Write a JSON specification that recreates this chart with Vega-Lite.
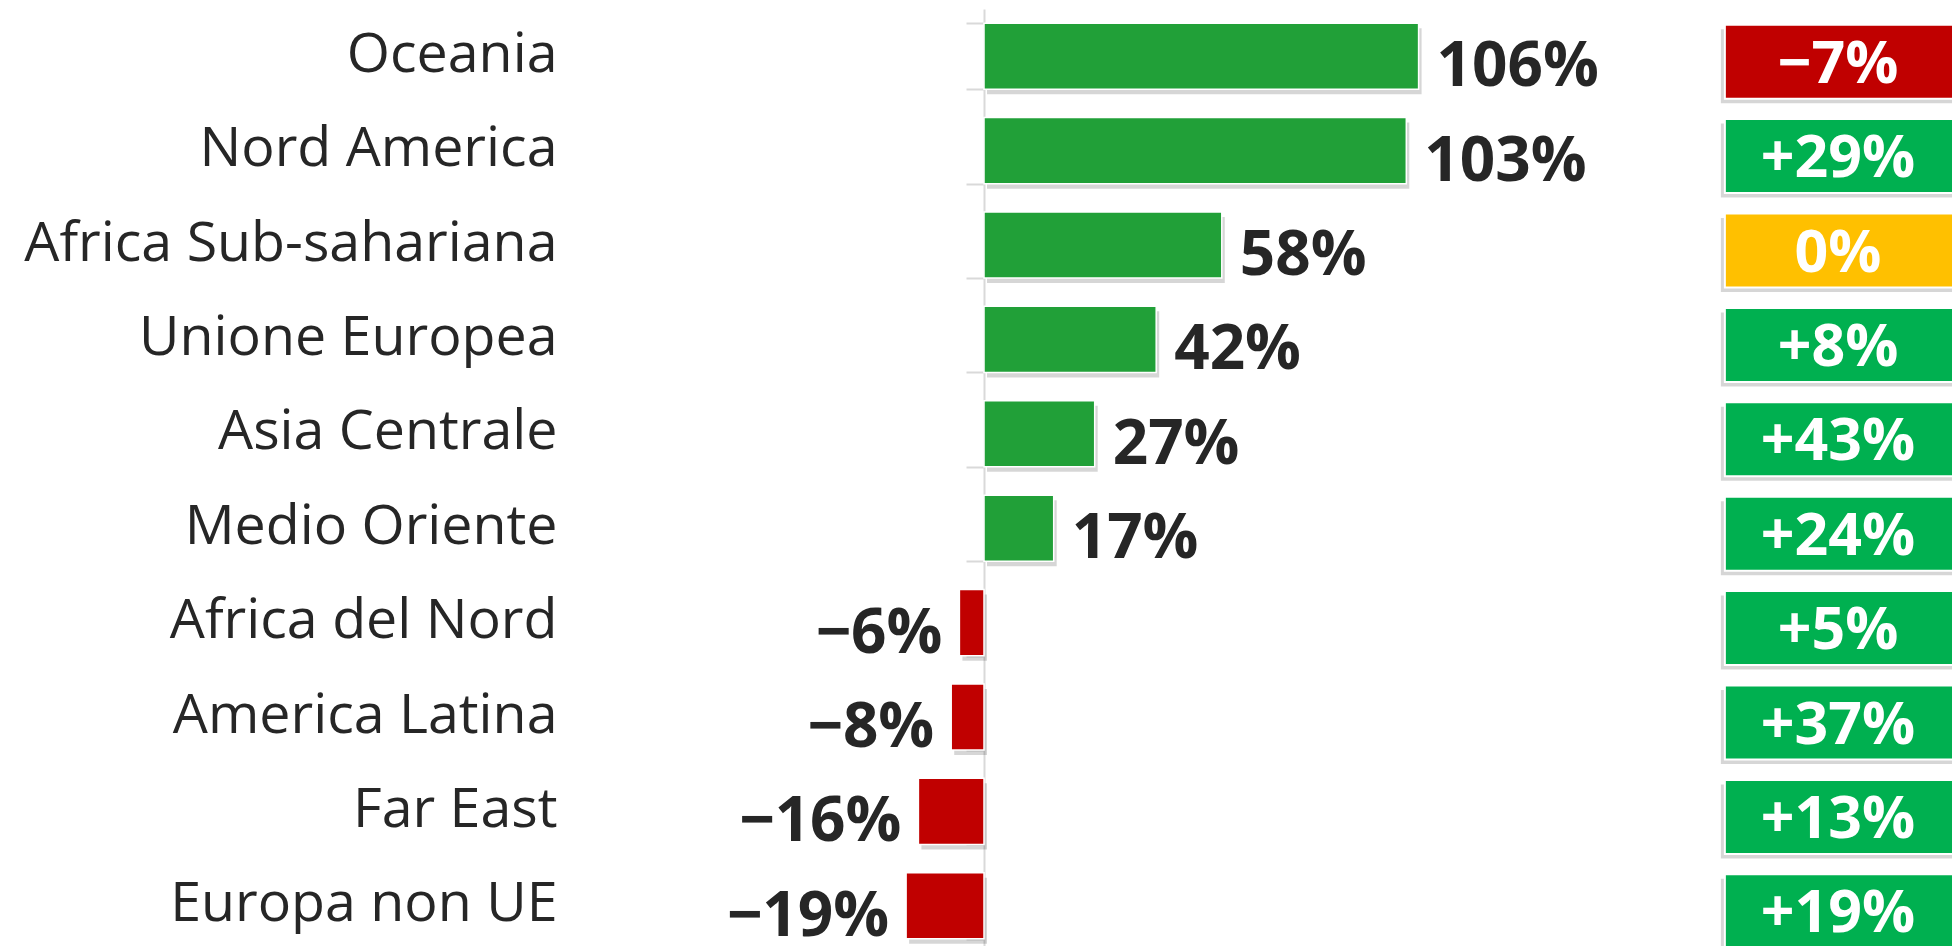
{
  "$schema": "https://vega.github.io/schema/vega-lite/v6.json",
  "width": 968,
  "height": 937,
  "autosize": {"type": "none"},
  "padding": {"left": 984, "top": 9, "right": 0, "bottom": 0},
  "background": "white",
  "config": {"view": {"stroke": null}, "font": "Open Sans"},
  "data": {
    "values": [
      {"area": "Oceania", "crescita": 1.06, "variazione": -0.07},
      {"area": "Nord America", "crescita": 1.03, "variazione": 0.29},
      {"area": "Africa Sub-sahariana", "crescita": 0.58, "variazione": 0},
      {"area": "Unione Europea", "crescita": 0.42, "variazione": 0.08},
      {"area": "Asia Centrale", "crescita": 0.27, "variazione": 0.43},
      {"area": "Medio Oriente", "crescita": 0.17, "variazione": 0.24},
      {"area": "Africa del Nord", "crescita": -0.06, "variazione": 0.05},
      {"area": "America Latina", "crescita": -0.08, "variazione": 0.37},
      {"area": "Far East", "crescita": -0.16, "variazione": 0.13},
      {"area": "Europa non UE", "crescita": -0.19, "variazione": 0.19}
    ]
  },
  "encoding": {
    "y": {
      "field": "area",
      "type": "nominal",
      "sort": null,
      "scale": {"range": [0, 944], "paddingInner": 0.3, "paddingOuter": 0.15},
      "axis": {
        "title": null,
        "domainColor": "#d9d9d9",
        "domainWidth": 2,
        "tickColor": "#d9d9d9",
        "tickWidth": 2,
        "tickSize": 18,
        "tickBand": "extent",
        "labelFont": "Open Sans",
        "labelFontSize": 55.5,
        "labelColor": "#262626",
        "labelPadding": 409,
        "labelLimit": 900,
        "labelBaseline": "alphabetic",
        "labelOffset": 15
      }
    }
  },
  "layer": [
    {
      "mark": {"type": "bar", "color": "#000000", "opacity": 0.16, "xOffset": 3, "yOffset": 5},
      "encoding": {
        "x": {"field": "crescita", "type": "quantitative", "scale": {"domain": [0, 2.361], "nice": false, "zero": false}, "axis": null}
      }
    },
    {
      "mark": {"type": "bar", "stroke": "white", "strokeWidth": 1.5},
      "encoding": {
        "x": {"field": "crescita", "type": "quantitative", "scale": {"domain": [0, 2.361], "nice": false, "zero": false}, "axis": null},
        "color": {"condition": {"test": "datum.crescita < 0", "value": "#C00000"}, "value": "#21A038"}
      }
    },
    {
      "transform": [{"filter": "datum.crescita >= 0"}],
      "mark": {"type": "text", "align": "left", "baseline": "alphabetic", "dx": 18, "dy": 30, "font": "Open Sans", "fontWeight": "bold", "fontSize": 62, "color": "#262626"},
      "encoding": {
        "x": {"field": "crescita", "type": "quantitative", "scale": {"domain": [0, 2.361], "nice": false, "zero": false}, "axis": null},
        "text": {"field": "crescita", "type": "quantitative", "format": ".0%"}
      }
    },
    {
      "transform": [{"filter": "datum.crescita < 0"}],
      "mark": {"type": "text", "align": "right", "baseline": "alphabetic", "dx": -17, "dy": 30, "font": "Open Sans", "fontWeight": "bold", "fontSize": 62, "color": "#262626"},
      "encoding": {
        "x": {"field": "crescita", "type": "quantitative", "scale": {"domain": [0, 2.361], "nice": false, "zero": false}, "axis": null},
        "text": {"field": "crescita", "type": "quantitative", "format": ".0%"}
      }
    },
    {
      "mark": {"type": "bar", "color": "#000000", "opacity": 0.16, "height": {"band": 1.12}, "xOffset": -4, "yOffset": 10},
      "encoding": {
        "x": {"datum": 1.807, "type": "quantitative", "scale": {"domain": [0, 2.361], "nice": false, "zero": false}},
        "x2": {"datum": 2.45}
      }
    },
    {
      "mark": {"type": "bar", "stroke": "white", "strokeWidth": 2, "height": {"band": 1.12}, "yOffset": 5.5},
      "encoding": {
        "x": {"datum": 1.807, "type": "quantitative", "scale": {"domain": [0, 2.361], "nice": false, "zero": false}},
        "x2": {"datum": 2.45},
        "color": {
          "condition": [
            {"test": "datum.variazione < 0", "value": "#C00000"},
            {"test": "datum.variazione == 0", "value": "#FFC000"}
          ],
          "value": "#00B050"
        }
      }
    },
    {
      "transform": [{"filter": "datum.variazione != 0"}],
      "mark": {"type": "text", "align": "center", "baseline": "alphabetic", "dy": 26.5, "font": "Open Sans", "fontWeight": "bold", "fontSize": 59, "color": "white"},
      "encoding": {
        "x": {"datum": 2.083, "type": "quantitative", "scale": {"domain": [0, 2.361], "nice": false, "zero": false}},
        "text": {"field": "variazione", "type": "quantitative", "format": "+.0%"}
      }
    },
    {
      "transform": [{"filter": "datum.variazione == 0"}],
      "mark": {"type": "text", "align": "center", "baseline": "alphabetic", "dy": 26.5, "font": "Open Sans", "fontWeight": "bold", "fontSize": 59, "color": "white"},
      "encoding": {
        "x": {"datum": 2.083, "type": "quantitative", "scale": {"domain": [0, 2.361], "nice": false, "zero": false}},
        "text": {"field": "variazione", "type": "quantitative", "format": ".0%"}
      }
    }
  ]
}
